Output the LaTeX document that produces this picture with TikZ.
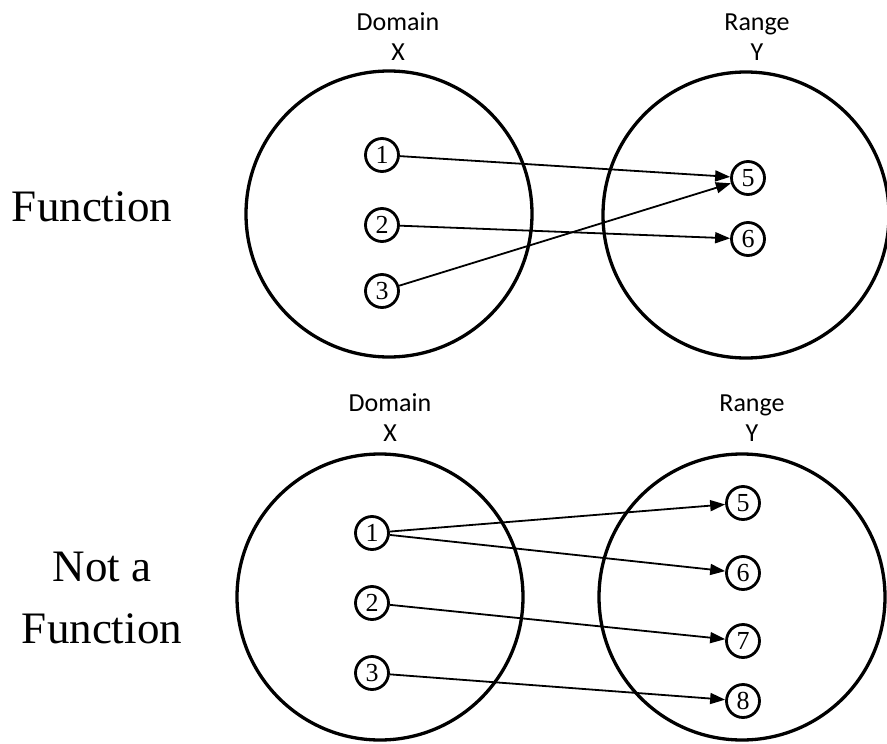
\documentclass[tikz,border=0pt]{standalone}
\usepackage{fontspec}
\setmainfont{Liberation Serif}
\newfontfamily\labelfont{Carlito}
\usepackage{tikz}
\usetikzlibrary{arrows.meta, positioning}
\tikzset{
    setcircle/.style={circle, draw, line width=3.3pt, minimum size=286pt, inner sep=0pt},
    element/.style={circle, draw, line width=2.8pt, minimum size=33pt, inner sep=0pt, font=\fontsize{26}{26}\selectfont},
    setlabel/.style={align=center, font=\labelfont\fontsize{26}{30}\selectfont},
    kindlabel/.style={align=center, font=\fontsize{45}{62}\selectfont},
    maps/.style={-{Triangle[length=15pt, width=11pt]}, line width=1.8pt},
}
\begin{document}
\begin{tikzpicture}[x=1pt, y=-1pt]
\useasboundingbox (0,0) rectangle (887,744);

% === FUNCTION ===
\node[kindlabel] (kindA) at (92, 207) {Function};
\node[setcircle] (domA) at (389, 214) {};
\node[setcircle] (ranA) at (746, 215) {};
\node[setlabel] (domAlbl) at (398, 37) {Domain\\X};
\node[setlabel] (ranAlbl) at (757, 37) {Range\\Y};

\node[element] (a1) at (382, 155) {1};
\node[element] (a2) at (382, 225) {2};
\node[element] (a3) at (382, 291) {3};
\node[element] (a5) at (748, 178) {5};
\node[element] (a6) at (748, 239) {6};

\draw[maps] (a1) -- (a5);
\draw[maps] (a2) -- (a6);
\draw[maps] (a3) -- (a5);

% === NOT A FUNCTION ===
\node[kindlabel] (kindB) at (102, 598) {Not a\\Function};
\node[setcircle] (domB) at (380, 597) {};
\node[setcircle] (ranB) at (742, 597) {};
\node[setlabel] (domBlbl) at (390, 418) {Domain\\X};
\node[setlabel] (ranBlbl) at (752, 418) {Range\\Y};

\node[element] (b1) at (372, 533) {1};
\node[element] (b2) at (372, 603) {2};
\node[element] (b3) at (372, 673) {3};
\node[element] (b5) at (743, 503) {5};
\node[element] (b6) at (743, 573) {6};
\node[element] (b7) at (743, 641) {7};
\node[element] (b8) at (743, 701) {8};

\draw[maps] (b1) -- (b5);
\draw[maps] (b1) -- (b6);
\draw[maps] (b2) -- (b7);
\draw[maps] (b3) -- (b8);

\end{tikzpicture}
\end{document}
